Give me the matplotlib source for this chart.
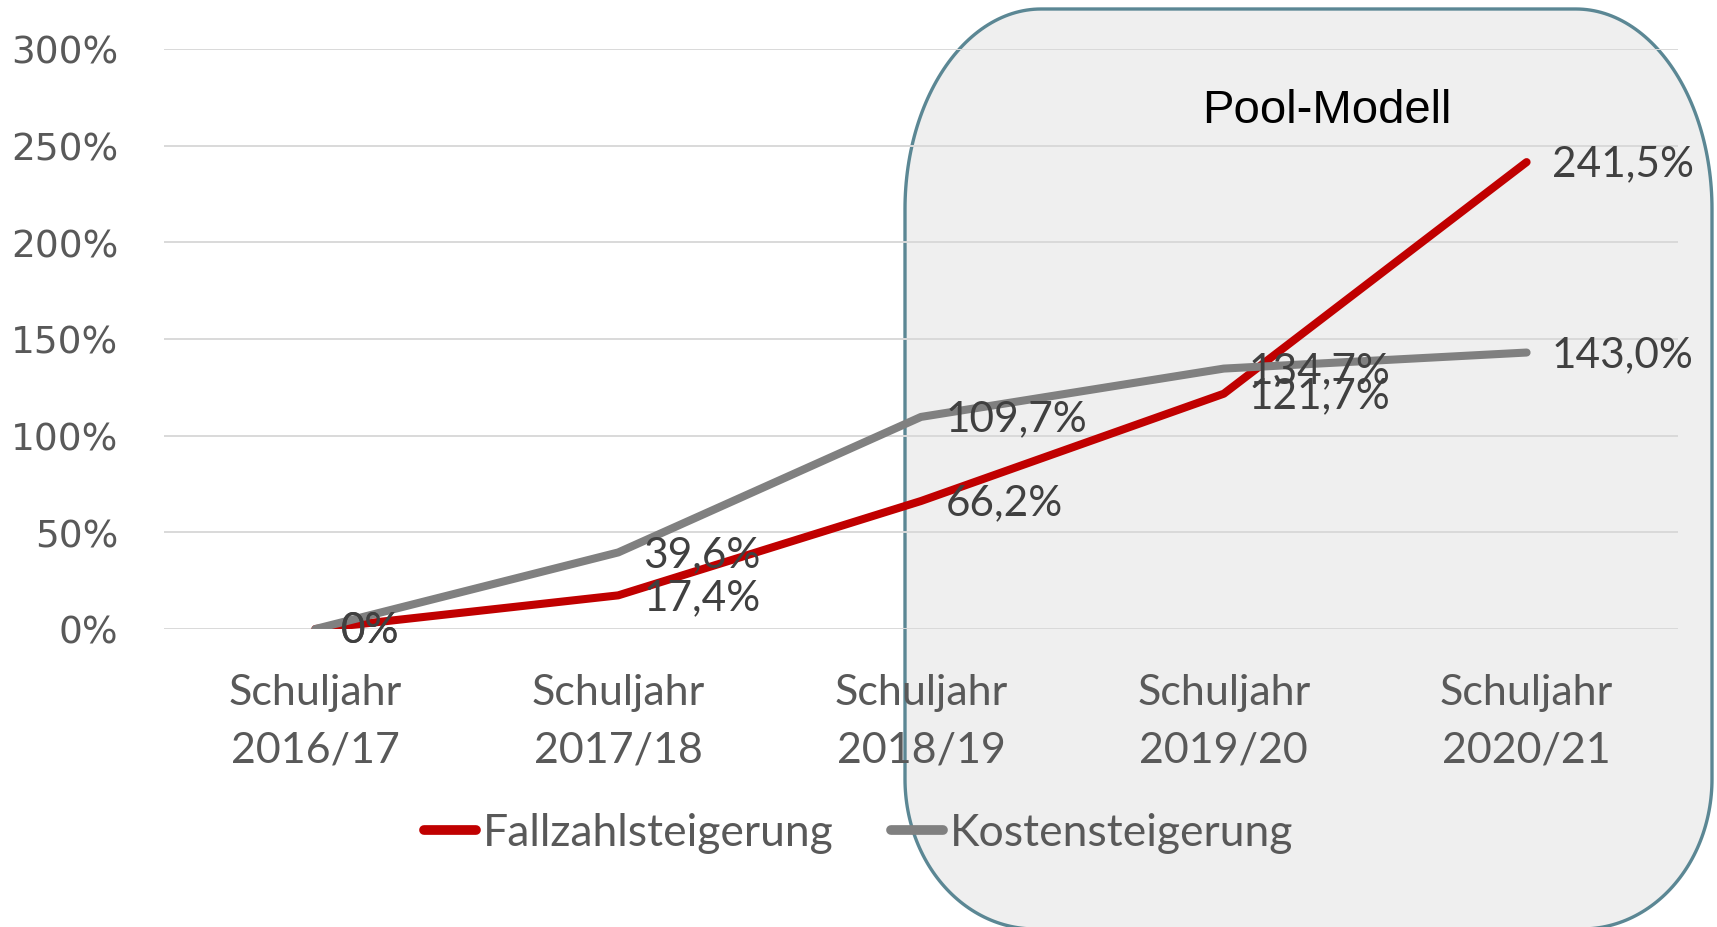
import numpy as np
import matplotlib
matplotlib.use("Agg")
import matplotlib.pyplot as plt
from matplotlib.patches import Polygon

# Daten
years = ["2016/17", "2017/18", "2018/19", "2019/20", "2020/21"]
categories = [f"Schuljahr\n{y}" for y in years]
fallzahl = [0.0, 17.4, 66.2, 121.7, 241.5]
kosten = [0.0, 39.6, 109.7, 134.7, 143.0]
fallzahl_labels = ["0%", "17,4%", "66,2%", "121,7%", "241,5%"]
kosten_labels = ["0%", "39,6%", "109,7%", "134,7%", "143,0%"]
y_ticks = [0, 50, 100, 150, 200, 250, 300]

W, H = 1717, 928
RED = "#C00000"
GREY = "#808080"
TXT = "#595959"
LBL = "#404040"


def rounded_box(left, top, right, bottom, top_r, bot_r, n=60):
    """Outline of a box with elliptical corners, pixel coords (y from top)."""
    pts = []
    rx, ry = top_r
    t = np.linspace(np.pi, 1.5 * np.pi, n)
    pts += list(zip(left + rx + rx * np.cos(t), top + ry + ry * np.sin(t)))
    t = np.linspace(1.5 * np.pi, 2 * np.pi, n)
    pts += list(zip(right - rx + rx * np.cos(t), top + ry + ry * np.sin(t)))
    rx, ry = bot_r
    t = np.linspace(0, 0.5 * np.pi, n)
    pts += list(zip(right - rx + rx * np.cos(t), bottom - ry + ry * np.sin(t)))
    t = np.linspace(0.5 * np.pi, np.pi, n)
    pts += list(zip(left + rx + rx * np.cos(t), bottom - ry + ry * np.sin(t)))
    return np.array([(x / W, 1 - y / H) for x, y in pts])


fig = plt.figure(figsize=(W / 100, H / 100), dpi=100)
fig.patch.set_facecolor("white")

box = Polygon(rounded_box(905, 10, 1712, 930, (136, 200), (130, 150)),
              closed=True, transform=fig.transFigure, facecolor="#EFEFEF",
              edgecolor="#5B8794", linewidth=2.4, zorder=-1)
fig.patches.append(box)
fig.text(1327 / W, 1 - 111 / H, "Pool-Modell", family="Liberation Sans",
         fontsize=34, color="black", ha="center", va="center")

ax = fig.add_axes([164 / W, 1 - 630 / H, 1514 / W, 580 / H])
ax.set_facecolor("none")

x = np.arange(len(categories))
ax.plot(x, fallzahl, color=RED, lw=5.8, solid_capstyle="round",
        solid_joinstyle="round", label="Fallzahlsteigerung", zorder=3)
ax.plot(x, kosten, color=GREY, lw=5.8, solid_capstyle="round",
        solid_joinstyle="round", label="Kostensteigerung", zorder=3)

for xi, v, s in zip(x, fallzahl, fallzahl_labels):
    ax.annotate(s, (xi, v), xytext=(18, -1), textcoords="offset points",
                va="center", ha="left", fontsize=30.5, family="Lato",
                color=LBL, zorder=5)
for xi, v, s in zip(x, kosten, kosten_labels):
    ax.annotate(s, (xi, v), xytext=(18, -1), textcoords="offset points",
                va="center", ha="left", fontsize=30.5, family="Lato",
                color=LBL, zorder=5)

ax.set_xlim(-0.5, len(categories) - 0.5)
ax.set_ylim(0, 300)
ax.set_yticks(y_ticks)
ax.set_yticklabels([f"{t}%" for t in y_ticks], family="DejaVu Sans",
                   fontsize=27, color=TXT)
ax.set_xticks(x)
ax.set_xticklabels(categories, family="Lato", fontsize=31, color=TXT,
                   linespacing=1.63)
ax.tick_params(axis="y", length=0, pad=33)
ax.tick_params(axis="x", length=0, pad=32)
ax.grid(axis="y", color="#D9D9D9", lw=1.4, zorder=0)
ax.set_axisbelow(True)
for sp in ax.spines.values():
    sp.set_visible(False)

leg = fig.legend(loc="center", bbox_to_anchor=(0.5, 1 - 834 / H), ncol=2,
                 frameon=False, prop={"family": "Lato", "size": 32},
                 handlelength=1.17, handletextpad=0.15, columnspacing=1.3)
for t in leg.get_texts():
    t.set_color(TXT)
for h in leg.get_lines():
    h.set_linewidth(7)

fig.savefig("out.png", dpi=100)
